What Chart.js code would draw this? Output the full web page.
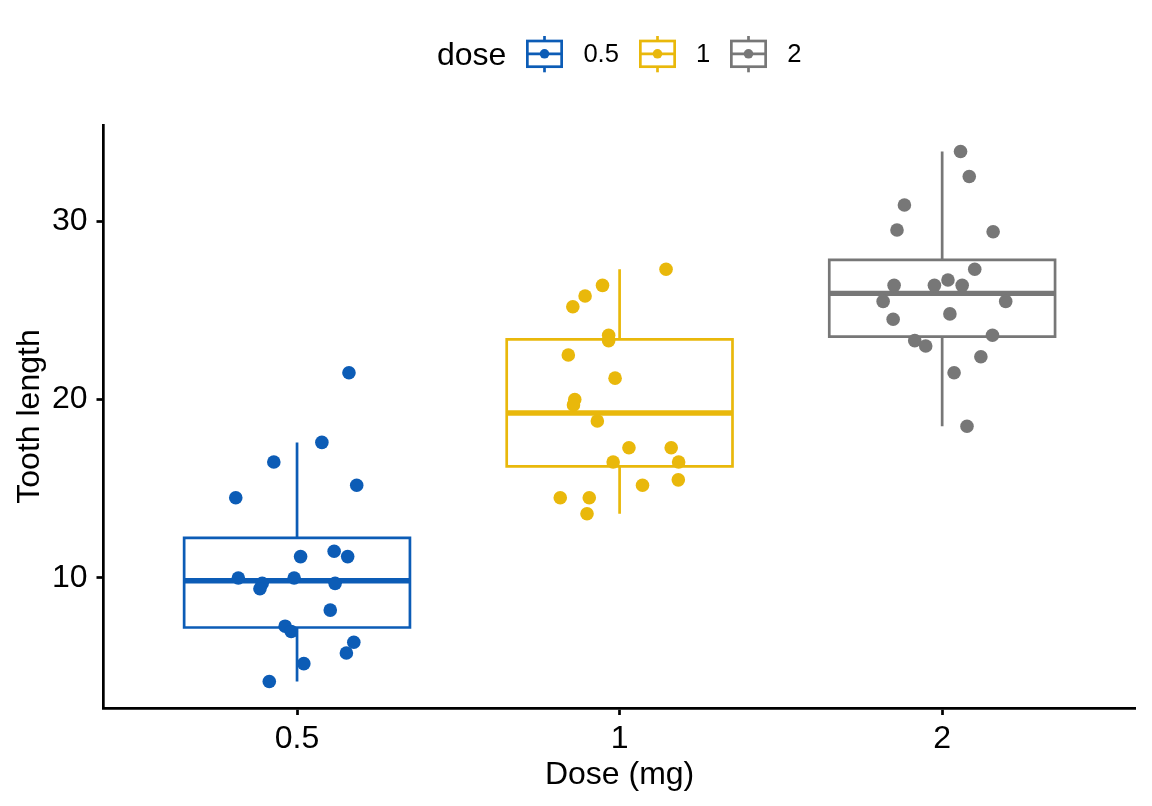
<!DOCTYPE html>
<html><head><meta charset="utf-8">
<script src="https://cdn.jsdelivr.net/npm/chart.js@4.4.0/dist/chart.umd.min.js"></script>
<style>
html,body{margin:0;padding:0;background:#fff;}
#wrap{position:relative;width:1152px;height:806px;overflow:hidden;}
#c{position:absolute;left:0;top:0;}
#legend{position:absolute;left:437px;top:35px;height:38px;display:flex;align-items:center;font-family:'Liberation Sans',Arial,Helvetica,sans-serif;color:#000;white-space:nowrap;}
#legend .title{font-size:32px;line-height:32px;margin-right:20px;}
#legend .lab{font-size:25.6px;line-height:25.6px;margin-right:20px;}
#legend svg{margin-right:20px;display:block;}
</style></head><body>
<div id="wrap"><canvas id="c" width="1152" height="806"></canvas><div id="legend"></div></div>
<script>
// ---- data ----
const categories = ['0.5', '1', '2'];
const legendTitle = 'dose';
const xTitle = 'Dose (mg)';
const yTitle = 'Tooth length';
const yTickValues = [10, 20, 30];

const len05 = [21.5, 17.6, 16.5, 15.2, 14.5, 11.2, 11.5, 11.2, 10.0, 10.0, 9.7, 9.4, 9.7, 8.2, 7.3, 7.0, 6.4, 5.8, 5.2, 4.2];
const jit05 = [1.161, 1.077, 0.928, 1.185, 0.810, 1.011, 1.115, 1.157, 0.818, 0.991, 0.892, 0.885, 1.118, 1.103, 0.963, 0.982, 1.176, 1.153, 1.021, 0.914];

const len1 = [27.3, 26.4, 25.8, 25.2, 23.6, 23.3, 22.5, 21.2, 20.0, 19.7, 18.8, 17.3, 17.3, 16.5, 16.5, 15.5, 15.2, 14.5, 14.5, 13.6];
const jit1 = [2.144, 1.947, 1.893, 1.855, 1.966, 1.966, 1.841, 1.986, 1.861, 1.857, 1.931, 2.029, 2.160, 1.980, 2.183, 2.182, 2.071, 1.816, 1.906, 1.899];

const len2 = [33.9, 32.5, 30.9, 29.5, 29.4, 27.3, 26.7, 26.4, 26.4, 26.4, 25.5, 25.5, 24.8, 24.5, 23.6, 23.3, 23.0, 22.4, 21.5, 18.5];
const jit2 = [3.057, 3.084, 2.883, 2.860, 3.158, 3.101, 3.018, 2.851, 2.976, 3.062, 2.817, 3.197, 3.024, 2.848, 3.156, 2.915, 2.949, 3.120, 3.037, 3.077];

const groupLengths = [len05, len1, len2];
const groupJitter = [jit05, jit1, jit2];

// ---- style ----
const colors = ['#0C5CB6', '#E9B80B', '#777777'];
const FONT = "'Liberation Sans', Arial, Helvetica, sans-serif";
const BOX_HALF = 0.35;
const LW = 2.7;

// ---- boxplot stats (ggplot type-7 quantiles, 1.5 IQR whiskers) ----
function quantile(s, p) {
  const h = (s.length - 1) * p, lo = Math.floor(h), hi = Math.ceil(h);
  return s[lo] + (h - lo) * (s[hi] - s[lo]);
}
function boxStats(vals) {
  const s = [...vals].sort((a, b) => a - b);
  const q1 = quantile(s, 0.25), med = quantile(s, 0.5), q3 = quantile(s, 0.75);
  const iqr = q3 - q1;
  const lo = Math.min(...s.filter(v => v >= q1 - 1.5 * iqr));
  const hi = Math.max(...s.filter(v => v <= q3 + 1.5 * iqr));
  return {q1, med, q3, lo, hi};
}

const datasets = [];
categories.forEach((cat, i) => {
  const c = i + 1;
  const st = boxStats(groupLengths[i]);
  const col = colors[i];
  const lineBase = {type: 'scatter', showLine: true, pointRadius: 0, borderColor: col, borderWidth: LW,
    fill: false, tension: 0, borderCapStyle: 'butt', borderJoinStyle: 'miter', order: 2};
  datasets.push(Object.assign({}, lineBase, {label: 'box ' + cat, data: [
    {x: c, y: st.q1}, {x: c + BOX_HALF, y: st.q1}, {x: c + BOX_HALF, y: st.q3},
    {x: c - BOX_HALF, y: st.q3}, {x: c - BOX_HALF, y: st.q1}, {x: c, y: st.q1}]}));
  datasets.push(Object.assign({}, lineBase, {label: 'upper ' + cat, data: [{x: c, y: st.q3}, {x: c, y: st.hi}]}));
  datasets.push(Object.assign({}, lineBase, {label: 'lower ' + cat, data: [{x: c, y: st.lo}, {x: c, y: st.q1}]}));
  datasets.push(Object.assign({}, lineBase, {label: 'median ' + cat, borderWidth: LW * 2,
    data: [{x: c - BOX_HALF, y: st.med}, {x: c + BOX_HALF, y: st.med}]}));
  datasets.push({type: 'scatter', label: cat, showLine: false, order: 0,
    data: groupLengths[i].map((v, k) => ({x: groupJitter[i][k], y: v})),
    pointRadius: 6.8, pointBackgroundColor: col, pointBorderWidth: 0, borderColor: col, backgroundColor: col});
});

Chart.defaults.font.family = FONT;
Chart.defaults.color = '#000';

new Chart(document.getElementById('c'), {
  type: 'scatter',
  data: {datasets},
  options: {
    responsive: false, animation: false, devicePixelRatio: 1, events: [],
    layout: {padding: {left: 0, top: 125, right: 16.3, bottom: 0}},
    plugins: {legend: {display: false}, tooltip: {enabled: false}},
    scales: {
      x: {
        type: 'linear', position: 'bottom', min: 0.4, max: 3.6,
        afterBuildTicks: s => { s.ticks = categories.map((_, i) => ({value: i + 1})); },
        afterFit: s => { s.height = 98; },
        ticks: {callback: (v, idx) => categories[idx], font: {size: 32}, color: '#000', padding: 5, maxRotation: 0, autoSkip: false},
        grid: {display: true, drawOnChartArea: false, drawTicks: true, tickLength: 7, tickWidth: LW, tickColor: '#000', color: '#000'},
        border: {display: true, color: '#000', width: LW},
        title: {display: true, text: xTitle, font: {size: 32}, color: '#000', padding: {top: 0, bottom: 12}}
      },
      y: {
        type: 'linear', position: 'left', min: 2.715, max: 35.385,
        afterBuildTicks: s => { s.ticks = yTickValues.map(v => ({value: v})); },
        afterFit: s => { s.width = 103.5; },
        ticks: {font: {size: 32}, color: '#000', padding: 9, autoSkip: false},
        grid: {display: true, drawOnChartArea: false, drawTicks: true, tickLength: 7, tickWidth: LW, tickColor: '#000', color: '#000'},
        border: {display: true, color: '#000', width: LW},
        title: {display: true, text: yTitle, font: {size: 32}, color: '#000', padding: {top: 11, bottom: 0}}
      }
    }
  }
});

// ---- legend (HTML) ----
const lg = document.getElementById('legend');
const t = document.createElement('span'); t.className = 'title'; t.textContent = legendTitle; lg.appendChild(t);
categories.forEach((cat, i) => {
  const col = colors[i];
  const ns = 'http://www.w3.org/2000/svg';
  const svg = document.createElementNS(ns, 'svg');
  svg.setAttribute('width', '37'); svg.setAttribute('height', '38');
  svg.innerHTML =
    `<line x1="18.5" y1="1" x2="18.5" y2="6" stroke="${col}" stroke-width="${LW}"/>` +
    `<line x1="18.5" y1="31.7" x2="18.5" y2="37.3" stroke="${col}" stroke-width="${LW}"/>` +
    `<rect x="1.35" y="6" width="34.3" height="25.7" fill="#fff" stroke="${col}" stroke-width="${LW}"/>` +
    `<line x1="1.35" y1="18.8" x2="35.65" y2="18.8" stroke="${col}" stroke-width="${LW}"/>` +
    `<circle cx="18.5" cy="18.8" r="4.8" fill="${col}"/>`;
  lg.appendChild(svg);
  const s = document.createElement('span'); s.className = 'lab'; s.textContent = cat; lg.appendChild(s);
});
</script>
</body></html>
